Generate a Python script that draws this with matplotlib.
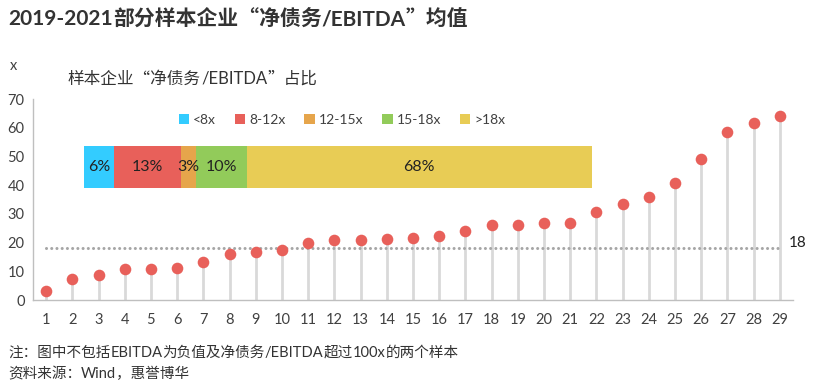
import matplotlib
matplotlib.use("Agg")
import matplotlib.pyplot as plt
from matplotlib.patches import Patch

plt.rcParams['font.family'] = ['Lato', 'Noto Sans CJK SC', 'DejaVu Sans']

# ---- data ----
samples = list(range(1, 30))
values = [3.1, 7.3, 8.8, 10.7, 10.7, 11.1, 13.2, 16.0, 16.7, 17.4,
          19.9, 20.9, 20.9, 21.2, 21.7, 22.4, 24.0, 26.1, 26.1, 26.8,
          26.8, 30.6, 33.4, 35.9, 40.8, 49.1, 58.5, 61.6, 64.1]
threshold = 18
share_labels = ['<8x', '8-12x', '12-15x', '15-18x', '>18x']
share_values = [6, 13, 3, 10, 68]
share_colors = ['#33CCFF', '#E8605A', '#E6A54B', '#92CB5A', '#E8CC55']
yticks = [0, 10, 20, 30, 40, 50, 60, 70]

LAT = ['Lato', 'DejaVu Sans']
CJK = ['Noto Sans CJK SC', 'DejaVu Sans']
title_parts = [('2019-2021', LAT), ('部分样本企业“净债务', CJK), ('/EBITDA', LAT), ('”均值', CJK)]
subtitle_parts = [('样本企业“净债务', CJK), ('/EBITDA', LAT), ('”占比', CJK)]
note1_parts = [('注：图中不包括', CJK), ('EBITDA', LAT), ('为负值及净债务', CJK), ('/EBITDA', LAT),
               ('超过', CJK), ('100x', LAT), ('的两个样本', CJK)]
note2_parts = [('资料来源：', CJK), ('Wind', LAT), ('，惠誉博华', CJK)]

W, H = 831, 385
fig = plt.figure(figsize=(W / 100, H / 100), dpi=100)
renderer = fig.canvas.get_renderer()

def fx(px):
    return px / W

def fy(py):
    return 1 - py / H

def rich_text(x_px, base_px, parts, size, color, weight='normal'):
    x = fx(x_px)
    for s, fam in parts:
        t = fig.text(x, fy(base_px), s, family=fam, fontsize=size, color=color,
                     fontweight=weight, ha='left', va='baseline')
        bb = t.get_window_extent(renderer)
        x += bb.width / W

text_color = '#404040'

# main axes
ax = fig.add_axes([fx(33), fy(300), fx(760), 201 / H])
ax.vlines(samples, 0, values, color='#D9D9D9', lw=2, zorder=1)
ax.scatter(samples, values, s=70, color='#E8605A', zorder=3, linewidths=0)
ax.plot([samples[0], samples[-1]], [threshold, threshold], color='#A6A6A6',
        lw=2.2, linestyle=(0, (0.01, 1.7)), dash_capstyle='round', zorder=2)
ax.set_xlim(0.5, 29.5)
ax.set_ylim(0, 70)
ax.set_xticks(samples)
ax.set_yticks(yticks)
ax.tick_params(length=0, labelsize=10.5, colors=text_color, pad=6)
ax.tick_params(axis='x', pad=9)
for s in ['top', 'right']:
    ax.spines[s].set_visible(False)
for s in ['left', 'bottom']:
    ax.spines[s].set_color('#BFBFBF')
    ax.spines[s].set_linewidth(1)
ax.text(29.35, threshold + 1.8, str(threshold), ha='left', va='center',
        fontsize=11, color='#222222')

# stacked share bar
axb = fig.add_axes([fx(84), fy(188), fx(508), 42 / H])
left = 0
for lab, v, c in zip(share_labels, share_values, share_colors):
    axb.barh(0, v, left=left, color=c, height=1, edgecolor='none')
    axb.text(left + v / 2, 0, f'{v}%', ha='center', va='center',
             fontsize=11.5, color='#222222')
    left += v
axb.set_xlim(0, sum(share_values))
axb.set_ylim(-0.5, 0.5)
axb.axis('off')

handles = [Patch(facecolor=c, edgecolor='none') for c in share_colors]
fig.legend(handles, share_labels, loc='center', bbox_to_anchor=(fx(342), fy(120)),
           ncol=5, frameon=False, fontsize=10, handlelength=0.75,
           handleheight=0.75, handletextpad=0.3, columnspacing=1.35,
           labelcolor=text_color)

rich_text(8, 25, title_parts, 15, '#333333', weight='bold')
fig.text(fx(10), fy(66), 'x', fontsize=10.5, color=text_color, ha='left', va='center')
rich_text(68, 84, subtitle_parts, 12, '#333333')
rich_text(8, 357, note1_parts, 10.5, '#333333')
rich_text(8, 378, note2_parts, 10.5, '#333333')

fig.savefig('out.png', dpi=100)
